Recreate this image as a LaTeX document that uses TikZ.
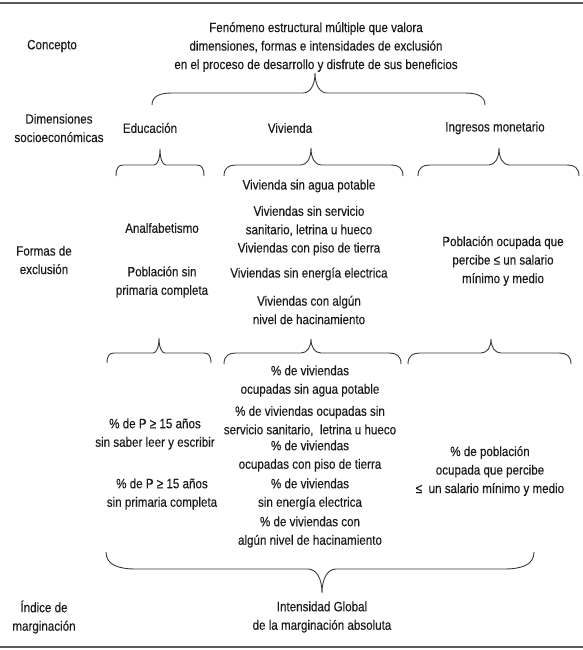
\documentclass[tikz,border=0pt]{standalone}
\usepackage{fontspec}
\setmainfont[FakeStretch=0.86,FakeBold=0.25]{Liberation Sans}
\definecolor{ink}{HTML}{1A1A1A}
\definecolor{bracec}{HTML}{3A3A3A}
\definecolor{rulec}{HTML}{5A5A5A}
\newcommand\mybrace[8]{\draw[bracel] (#1,#4) .. controls +(0,{0.75*(#5-#4)}) and +({-0.6*#7},0) .. ({#1+#7},#5) -- ({#3-#8},#5) .. controls +({0.6*#8},0) and +(0,{0.6*(#5-#6)}) .. (#3,#6) .. controls +(0,{0.6*(#5-#6)}) and +({-0.6*#8},0) .. ({#3+#8},#5) -- ({#2-#7},#5) .. controls +({0.6*#7},0) and +(0,{0.75*(#5-#4)}) .. (#2,#4);}
\begin{document}
\begin{tikzpicture}[x=1pt,y=-1pt,
  txt/.style={align=center, inner sep=0pt, text=ink, font=\fontsize{13.5}{18.5}\selectfont},
  bracel/.style={draw=bracec, line width=0.9pt},
  rulel/.style={draw=rulec, line width=2.2pt}]
\useasboundingbox (0,0) rectangle (583,650);
\draw[rulel] (0,3) -- (583,3);
\draw[rulel] (0,647) -- (583,647);
% left labels
\node[txt] (concepto) at (52,46) {Concepto};
\node[txt] (dimens) at (59,128) {Dimensiones\\socioeconómicas};
\node[txt] (formas) at (44,260) {Formas de\\exclusión};
\node[txt] (indice) at (44,617) {Índice de\\marginación};
% concept
\node[txt] (concept) at (316,47) {Fenómeno estructural múltiple que valora\\dimensiones, formas e intensidades de exclusión\\en el proceso de desarrollo y disfrute de sus beneficios};
% dimensions
\node[txt] (educ) at (150,128) {Educación};
\node[txt] (viv) at (290,128) {Vivienda};
\node[txt] (ing) at (495,128) {Ingresos monetario};
% forms
\node[txt] (analf) at (162,228) {Analfabetismo};
\node[txt] (pobsin) at (162,282) {Población sin\\primaria completa};
\node[txt] (fv1) at (309,186) {Vivienda sin agua potable};
\node[txt] (fv2) at (309,221) {Viviendas sin servicio\\sanitario, letrina u hueco};
\node[txt] (fv3) at (309,249) {Viviendas con piso de tierra};
\node[txt] (fv4) at (309,274) {Viviendas sin energía electrica};
\node[txt] (fv5) at (309,310) {Viviendas con algún\\nivel de hacinamiento};
\node[txt] (fi1) at (503,261) {Población ocupada que\\percibe ≤ un salario\\mínimo y medio};
% indicators
\node[txt] (ie1) at (155,434) {\% de P ≥ 15 años\\sin saber leer y escribir};
\node[txt] (ie2) at (162,494) {\% de P ≥ 15 años\\sin primaria completa};
\node[txt] (iv1) at (310,381) {\% de viviendas\\ocupadas sin agua potable};
\node[txt] (iv2) at (310,421) {\% de viviendas ocupadas sin\\servicio sanitario,\ \ letrina u hueco};
\node[txt] (iv3) at (310,456) {\% de viviendas\\ocupadas con piso de tierra};
\node[txt] (iv4) at (310,494) {\% de viviendas\\sin energía electrica};
\node[txt] (iv5) at (310,532) {\% de viviendas con\\algún nivel de hacinamiento};
\node[txt] (ii1) at (490,471) {\% de población\\ocupada que percibe\\≤\ \ un salario mínimo y medio};
% result
\node[txt] (intens) at (322,617) {Intensidad Global\\de la marginación absoluta};
% braces
\mybrace{152}{485}{315}{105}{93}{73}{20}{12}
\mybrace{116}{204}{160}{176}{165}{149}{7}{6}
\mybrace{224}{403}{311}{176}{165}{148}{12}{10}
\mybrace{418}{579}{499}{176}{165}{148}{12}{10}
\mybrace{107}{211}{159}{363}{353}{338}{7}{6}
\mybrace{224}{401}{311}{364}{353}{339}{12}{10}
\mybrace{408}{571}{491}{364}{353}{339}{12}{10}
\mybrace{106}{534}{322}{552}{569}{593}{30}{14}
\end{tikzpicture}
\end{document}
